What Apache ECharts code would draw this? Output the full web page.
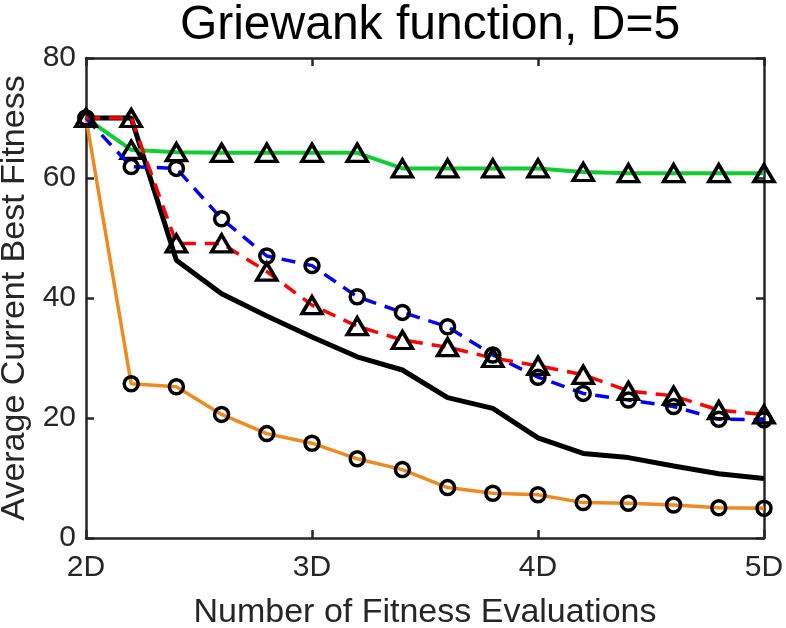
<!DOCTYPE html>
<html>
<head>
<meta charset="utf-8">
<script src="https://cdn.jsdelivr.net/npm/echarts@6/dist/echarts.min.js"></script>
<style>html,body{margin:0;padding:0;background:#fff;}#c{width:786px;height:628px;}</style>
</head>
<body>
<div id="c"></div>
<script>
const xs = [2, 2.2, 2.4, 2.6, 2.8, 3.0, 3.2, 3.4, 3.6, 3.8, 4.0, 4.2, 4.4, 4.6, 4.8, 5.0];
const greenTri = [70, 64.7, 64.3, 64.2, 64.2, 64.2, 64.2, 61.6, 61.6, 61.6, 61.6, 61.0, 60.8, 60.8, 60.8, 60.8];
const blueCirc = [70, 61.9, 61.6, 53.2, 47.0, 45.4, 40.2, 37.6, 35.2, 30.5, 26.8, 24.1, 23.0, 21.9, 19.8, 19.7];
const redTri = [70, 70, 49.1, 49.1, 44.4, 38.8, 35.3, 33.0, 31.8, 30.0, 28.7, 27.2, 24.5, 23.7, 21.3, 20.6];
const blackLine = [70, 70, 46.3, 40.7, 37.0, 33.5, 30.2, 28.0, 23.4, 21.6, 16.7, 14.1, 13.4, 12.0, 10.7, 9.9];
const orangeCirc = [70, 25.7, 25.2, 20.6, 17.4, 15.8, 13.2, 11.4, 8.4, 7.45, 7.2, 5.9, 5.8, 5.5, 5.05, 4.95];
const xTicks = [2, 3, 4, 5];
const yTicks = [0, 20, 40, 60, 80];

const pairs = arr => xs.map((x, i) => [x, arr[i]]);
const FONT = 'Liberation Sans, Arial, Helvetica, sans-serif';
const axisCol = '#262626';

const mk = { color: 'rgba(0,0,0,0)', borderColor: '#000', borderWidth: 3.5 };
const axLine = { show: true, onZero: false, lineStyle: { color: axisCol, width: 2.5 } };
const axTick = { show: true, inside: true, length: 8, lineStyle: { color: axisCol, width: 2.5 } };

const chart = echarts.init(document.getElementById('c'), null, { renderer: 'canvas' });
chart.setOption({
  animation: false,
  backgroundColor: '#fff',
  title: {
    text: 'Griewank function, D=5',
    left: 425, textAlign: 'center',
    top: -3,
    textStyle: { fontFamily: FONT, fontSize: 48, fontWeight: 'normal', color: '#000' }
  },
  grid: { left: 86, right: 22, top: 58, bottom: 90, show: false, containLabel: false, outerBoundsMode: 'none' },
  xAxis: [{
    type: 'value', min: 2, max: 5, interval: 1,
    name: 'Number of Fitness Evaluations', nameLocation: 'middle', nameGap: 58,
    nameTextStyle: { fontFamily: FONT, fontSize: 34, color: axisCol },
    axisLine: axLine, axisTick: axTick,
    axisLabel: { fontFamily: FONT, fontSize: 30, color: axisCol, margin: 15, formatter: v => v + 'D',
      customValues: xTicks },
    splitLine: { show: false }
  }, {
    type: 'value', min: 2, max: 5, interval: 1, position: 'top',
    axisLine: axLine, axisTick: axTick,
    axisLabel: { show: false }, splitLine: { show: false }
  }],
  yAxis: [{
    type: 'value', min: 0, max: 80, interval: 20,
    name: 'Average Current Best Fitness', nameLocation: 'middle', nameGap: 50,
    nameTextStyle: { fontFamily: FONT, fontSize: 34, color: axisCol },
    axisLine: axLine, axisTick: axTick,
    axisLabel: { fontFamily: FONT, fontSize: 30, color: axisCol, margin: 10, customValues: yTicks },
    splitLine: { show: false }
  }, {
    type: 'value', min: 0, max: 80, interval: 20, position: 'right',
    axisLine: axLine, axisTick: axTick,
    axisLabel: { show: false }, splitLine: { show: false }
  }],
  series: [
    {
      type: 'line', data: pairs(orangeCirc), symbol: 'circle', symbolSize: 14,
      lineStyle: { color: '#EE8A22', width: 3.5 }, itemStyle: mk, z: 3
    },
    {
      type: 'line', data: pairs(blackLine), showSymbol: false, symbol: 'none',
      lineStyle: { color: '#000', width: 5 }, z: 2
    },
    {
      type: 'line', data: pairs(greenTri), symbol: 'triangle', symbolSize: [20, 17],
      lineStyle: { color: '#12CC33', width: 4 }, itemStyle: mk, z: 3
    },
    {
      type: 'line', data: pairs(blueCirc), symbol: 'circle', symbolSize: 14,
      lineStyle: { color: '#0000FF', width: 3.5, type: [14, 9] }, itemStyle: mk, z: 4
    },
    {
      type: 'line', data: pairs(redTri), symbol: 'triangle', symbolSize: [20, 17],
      lineStyle: { color: '#FF0000', width: 3.5, type: [14, 9] }, itemStyle: mk, z: 4
    }
  ]
});
</script>
</body>
</html>
